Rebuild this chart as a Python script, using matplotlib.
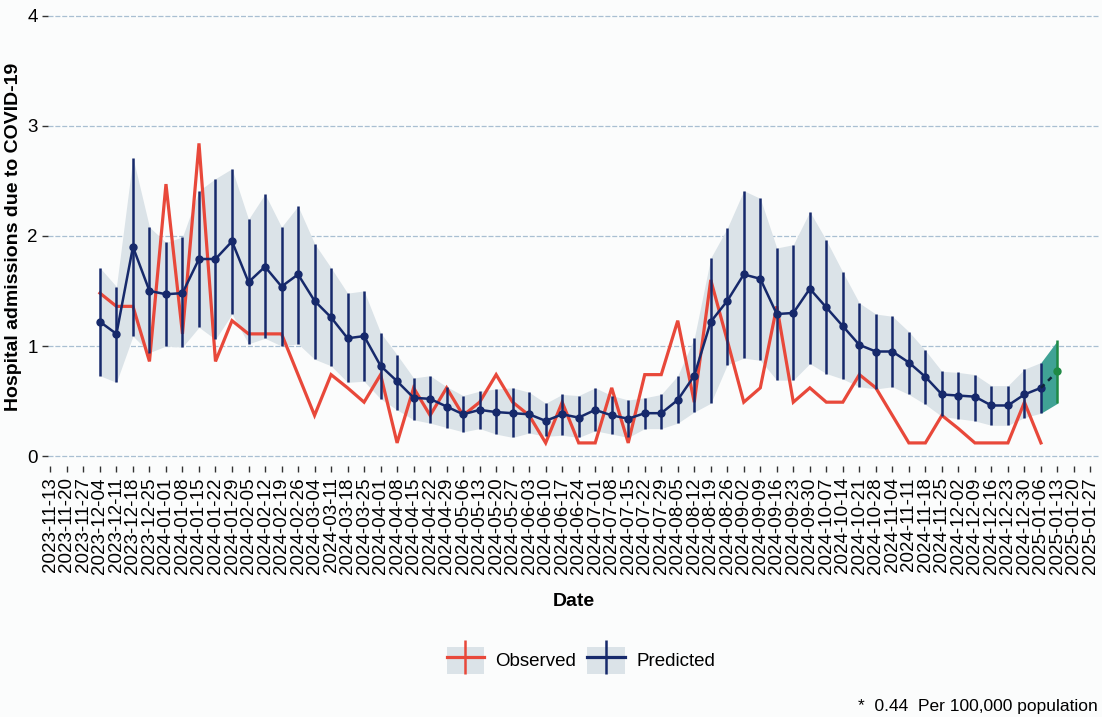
import pandas as pd
import matplotlib
matplotlib.use("Agg")
import matplotlib.pyplot as plt
import matplotlib.dates as mdates
from matplotlib.lines import Line2D
from matplotlib.patches import Patch

plt.rcParams['font.family'] = ['Liberation Sans', 'DejaVu Sans']

# weekly dates of the series (first week 2023-12-04)
dates = pd.date_range('2023-12-04', periods=58, freq='7D')
forecast_date = pd.Timestamp('2025-01-13')
tick_dates = pd.date_range('2023-11-13', '2025-01-27', freq='7D')

observed = [1.48, 1.36, 1.36, 0.86, 2.47, 1.11, 2.84, 0.86, 1.23, 1.11,
            1.11, 1.11, 0.74, 0.37, 0.74, 0.62, 0.49, 0.74, 0.12, 0.62,
            0.37, 0.62, 0.37, 0.49, 0.74, 0.49, 0.37, 0.12, 0.49, 0.12,
            0.12, 0.62, 0.12, 0.74, 0.74, 1.23, 0.49, 1.60, 1.05, 0.49,
            0.62, 1.36, 0.49, 0.62, 0.49, 0.49, 0.74, 0.62, 0.37, 0.12,
            0.12, 0.37, 0.25, 0.12, 0.12, 0.12, 0.49, 0.12]

predicted = [1.22, 1.11, 1.90, 1.50, 1.47, 1.48, 1.79, 1.79, 1.95, 1.58,
             1.72, 1.54, 1.65, 1.41, 1.26, 1.07, 1.09, 0.82, 0.68, 0.53,
             0.52, 0.45, 0.38, 0.42, 0.40, 0.39, 0.38, 0.32, 0.38, 0.35,
             0.42, 0.37, 0.34, 0.39, 0.39, 0.51, 0.73, 1.22, 1.41, 1.65,
             1.61, 1.29, 1.30, 1.52, 1.35, 1.18, 1.01, 0.95, 0.95, 0.85,
             0.72, 0.56, 0.55, 0.54, 0.46, 0.46, 0.56, 0.62]

pred_lower = [0.73, 0.67, 1.09, 0.94, 1.00, 0.99, 1.17, 1.06, 1.29, 1.02,
              1.07, 1.00, 1.02, 0.88, 0.82, 0.67, 0.68, 0.52, 0.42, 0.33,
              0.30, 0.26, 0.22, 0.25, 0.20, 0.17, 0.21, 0.18, 0.19, 0.17,
              0.23, 0.20, 0.17, 0.25, 0.25, 0.30, 0.40, 0.48, 0.83, 0.89,
              0.87, 0.69, 0.69, 0.84, 0.75, 0.70, 0.63, 0.61, 0.63, 0.56,
              0.47, 0.36, 0.34, 0.32, 0.28, 0.28, 0.35, 0.39]

pred_upper = [1.71, 1.54, 2.71, 2.08, 1.94, 1.99, 2.41, 2.52, 2.61, 2.15,
              2.38, 2.08, 2.27, 1.93, 1.71, 1.48, 1.50, 1.12, 0.92, 0.71,
              0.73, 0.63, 0.55, 0.59, 0.61, 0.62, 0.58, 0.48, 0.56, 0.55,
              0.62, 0.55, 0.51, 0.53, 0.56, 0.73, 1.07, 1.80, 2.07, 2.41,
              2.34, 1.89, 1.92, 2.22, 1.96, 1.67, 1.39, 1.29, 1.27, 1.13,
              0.96, 0.77, 0.76, 0.74, 0.64, 0.64, 0.79, 0.85]

forecast = 0.77
forecast_lower = 0.48
forecast_upper = 1.05

red = '#e8483a'
navy = '#16296b'
ribbon = '#dbe3e8'

fig = plt.figure(figsize=(11.02, 7.17), dpi=100)
fig.patch.set_facecolor('#fbfcfc')
ax = fig.add_axes([0.0436, 0.35, 0.9545, 0.639])
ax.set_facecolor('#fbfcfc')

x = mdates.date2num(dates)
xf = mdates.date2num(forecast_date)

for y in range(5):
    ax.axhline(y, color='#a9bfd2', lw=0.9, ls=(0, (4, 1.5)), zorder=0)

ax.fill_between(x, pred_lower, pred_upper, color=ribbon, lw=0, zorder=1)
ax.fill_between([x[-1], xf], [pred_lower[-1], forecast_lower],
                [pred_upper[-1], forecast_upper], color='#40a295', lw=0, zorder=1)

ax.plot(x, observed, color=red, lw=2.3, zorder=2, solid_joinstyle='miter')
ax.vlines(x, pred_lower, pred_upper, color=navy, lw=1.8, zorder=3)
ax.vlines(xf, forecast_lower, forecast_upper, color='#1f8a45', lw=1.8, zorder=3)
ax.plot(x, predicted, color=navy, lw=1.8, marker='o', markersize=5, zorder=4)
ax.plot([x[-1], xf], [predicted[-1], forecast], color='#10243a', lw=1.8,
        ls=(0, (2, 2)), zorder=4)
ax.plot([xf], [forecast], 'o', color='#1f8a45', markersize=5, zorder=5)

ax.set_ylim(-0.09, 4.07)
ax.set_yticks([0, 1, 2, 3, 4])
ax.set_xlim(mdates.date2num(pd.Timestamp('2023-11-12')),
            mdates.date2num(pd.Timestamp('2025-01-31')))
ax.set_xticks(mdates.date2num(tick_dates))
ax.set_xticklabels([d.strftime('%Y-%m-%d') for d in tick_dates], rotation=90)
ax.tick_params(axis='both', labelsize=13.5, color='#333333', length=4, width=1)
ax.tick_params(axis='x', pad=4)
for s in ax.spines.values():
    s.set_visible(False)

ax.set_xlabel('Date', fontsize=14, fontweight='bold', labelpad=14)
ax.set_ylabel('Hospital admissions due to COVID-19', fontsize=14,
              fontweight='bold')
ax.yaxis.set_label_coords(-0.0245, 0.5)

handles = [
    (Patch(facecolor=ribbon), Line2D([], [], color=red, lw=2.3, marker='|',
                                     markersize=24, mew=1.8)),
    (Patch(facecolor=ribbon), Line2D([], [], color=navy, lw=2.3, marker='|',
                                     markersize=24, mew=1.8)),
]
fig.legend(handles, ['Observed', 'Predicted'], loc='center', ncol=2,
           bbox_to_anchor=(0.527, 0.079), frameon=False, fontsize=13.5,
           handlelength=2.0, handleheight=1.8, columnspacing=0.6, handletextpad=0.6)

fig.text(0.9964, 0.0153, '*  0.44  Per 100,000 population', ha='right',
         va='center', fontsize=12.5)

fig.savefig('out.png', dpi=100, facecolor=fig.get_facecolor())
